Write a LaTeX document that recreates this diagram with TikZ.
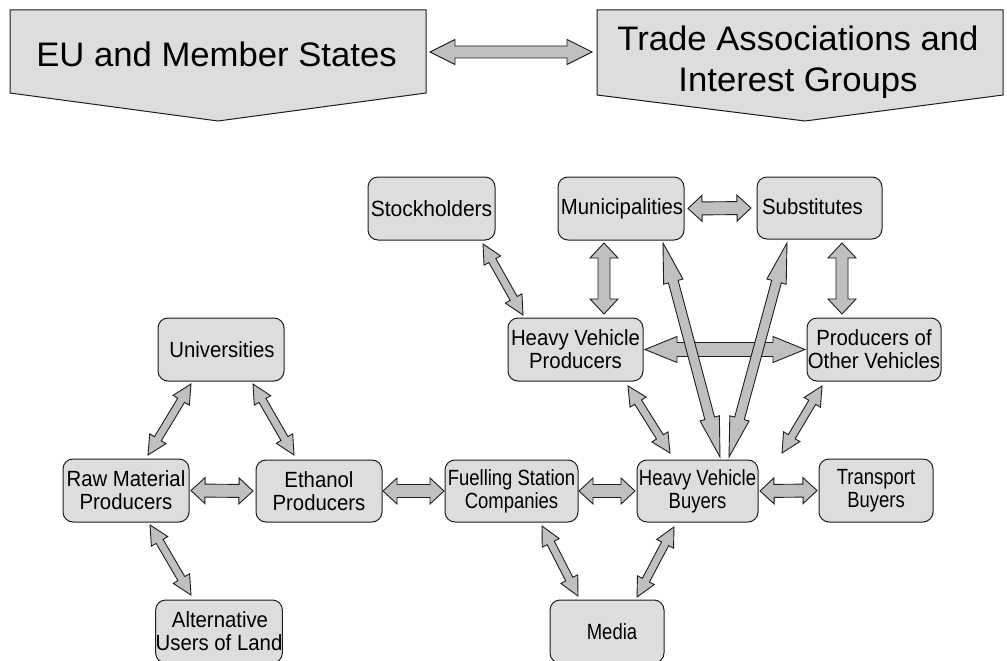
\documentclass[tikz,border=0pt]{standalone}
\usepackage{fontspec}
\setmainfont{Liberation Sans}
\newfontfamily\fwide[FakeStretch=0.955]{Liberation Sans}
\newfontfamily\fmid[FakeStretch=0.925]{Liberation Sans}
\newfontfamily\fnar[FakeStretch=0.84]{Liberation Sans}
\newfontfamily\fbig[FakeStretch=1.02]{Liberation Sans}
\usetikzlibrary{calc}
\definecolor{boxfill}{RGB}{221,221,221}
\definecolor{arrfill}{RGB}{192,192,192}
\definecolor{edgecol}{RGB}{30,30,30}
\tikzset{
  box/.style={draw=edgecol, fill=boxfill, rounded corners=10pt, line width=1pt,
    inner sep=0pt, outer sep=0pt, align=center, font=\fmid\fontsize{22}{23}\selectfont},
  widebox/.style={box, font=\fwide\fontsize{22}{23}\selectfont},
  narbox/.style={box, font=\fnar\fontsize{22}{23}\selectfont},
  pentbox/.style={draw=edgecol, fill=boxfill, line width=1pt},
  bigtext/.style={inner sep=0pt, align=center, font=\fbig\fontsize{34}{41}\selectfont},
  blockarr/.style={draw=edgecol, fill=arrfill, line width=0.9pt, line join=miter},
}
% #1 start, #2 end, #3 head length, #4 head half width, #5 shaft half width
\newcommand\blockarrow[5]{%
  \path[blockarr] let \p1=#1, \p2=#2, \n1={atan2(\y2-\y1,\x2-\x1)} in
    (\p1)
    -- ($(\p1)+(\n1:#3pt)+(\n1+90:#4pt)$)
    -- ($(\p1)+(\n1:#3pt)+(\n1+90:#5pt)$)
    -- ($(\p2)+(\n1:-#3pt)+(\n1+90:#5pt)$)
    -- ($(\p2)+(\n1:-#3pt)+(\n1+90:#4pt)$)
    -- (\p2)
    -- ($(\p2)+(\n1:-#3pt)+(\n1-90:#4pt)$)
    -- ($(\p2)+(\n1:-#3pt)+(\n1-90:#5pt)$)
    -- ($(\p1)+(\n1:#3pt)+(\n1-90:#5pt)$)
    -- ($(\p1)+(\n1:#3pt)+(\n1-90:#4pt)$)
    -- cycle;}
\begin{document}
\begin{tikzpicture}[x=1pt, y=-1pt]
\useasboundingbox (0,0) rectangle (1007,661);
\clip (0,0) rectangle (1007,661);
\fill[white] (0,0) rectangle (1007,661);

% top pentagons
\coordinate (euNW) at (10,10);
\coordinate (euNE) at (426,10);
\coordinate (euSE) at (426,93);
\coordinate (euP) at (218,121);
\coordinate (euSW) at (10,93);
\draw[pentbox] (euNW) -- (euNE) -- (euSE) -- (euP) -- (euSW) -- cycle;
\node[bigtext] (eu) at (216.5,54.5) {EU and Member States};

\coordinate (trNW) at (597,10);
\coordinate (trNE) at (1003,10);
\coordinate (trSE) at (1003,95);
\coordinate (trP) at (805,121);
\coordinate (trSW) at (597,95);
\draw[pentbox] (trNW) -- (trNE) -- (trSE) -- (trP) -- (trSW) -- cycle;
\node[bigtext] (trade) at (798,62.5) {Trade Associations and\\Interest Groups};

\coordinate (euR) at (430,52);
\coordinate (trL) at (592,52);
\blockarrow{(euR)}{(trL)}{25}{12.5}{6}

% nodes
\node[widebox, minimum width=127pt, minimum height=63pt] (stock) at (431.5,208.5) {Stockholders};
\node[box, minimum width=126pt, minimum height=63pt] (muni) at (621,208.5) {\hspace{2pt}Municipalities};
\node[box, minimum width=125pt, minimum height=62pt] (subs) at (819.5,208) {\raisebox{3pt}{Substitutes}\hspace{14pt}};
\node[box, minimum width=135pt, minimum height=63pt] (hvp) at (575.5,349.5) {Heavy Vehicle\\Producers};
\node[box, minimum width=134pt, minimum height=63pt] (pov) at (874,349.5) {Producers of\\Other Vehicles};
\node[box, minimum width=126pt, minimum height=63pt] (univ) at (221,349.5) {\hspace{2pt}Universities};
\node[box, minimum width=126pt, minimum height=63pt] (raw) at (126,490.5) {Raw Material\\Producers};
\node[box, minimum width=126pt, minimum height=62pt] (eth) at (319,491) {Ethanol\\Producers};
\node[box, minimum width=126pt, minimum height=63pt] (alt) at (219,631.5) {\hspace{2pt}Alternative\\Users of Land};
\node[narbox, minimum width=133pt, minimum height=62pt] (fuel) at (511.5,491) {Fuelling Station\\Companies};
\node[narbox, minimum width=121pt, minimum height=62pt] (hvb) at (697.5,491) {Heavy Vehicle\\Buyers};
\node[narbox, minimum width=114pt, minimum height=63pt] (trans) at (876,490.5) {Transport\\Buyers};
\node[narbox, minimum width=114pt, minimum height=63pt] (media) at (607,631.5) {\hspace{10pt}Media};

% horizontal arrows
\blockarrow{([xshift=4]muni.east)}{([xshift=-6]subs.west)}{14}{13}{6.5}
\blockarrow{([xshift=2]raw.east)}{([xshift=-3]eth.west)}{14}{13}{6.5}
\blockarrow{([xshift=1]eth.east)}{([xshift=-1]fuel.west)}{14}{13}{6.5}
\blockarrow{([xshift=1]fuel.east)}{([xshift=-2]hvb.west)}{14}{13}{6.5}
\blockarrow{([xshift=2]hvb.east)}{([xshift=-2]trans.west)}{14}{13}{6.5}
\blockarrow{([xshift=2]hvp.east)}{([xshift=-2]pov.west)}{32}{13}{7}

% vertical arrows
\blockarrow{([shift={(-17,3)}]muni.south)}{([shift={(28.5,-4)}]hvp.north)}{15}{14}{6}
\blockarrow{([shift={(22.5,4)}]subs.south)}{([shift={(-32,-4)}]pov.north)}{15}{14}{6}

% long arrows
\blockarrow{([shift={(42,3)}]muni.south)}{([shift={(22.5,-3)}]hvb.north)}{40}{10}{5}
\blockarrow{([shift={(-32.5,4)}]subs.south)}{([shift={(31.5,-3)}]hvb.north)}{40}{10}{5}

% diagonal arrows
\blockarrow{([shift={(51.5,4)}]stock.south)}{([shift={(-52.5,-3)}]hvp.north)}{19}{9.5}{4}
\blockarrow{([shift={(52.5,5)}]hvp.south)}{([shift={(-27.5,-7)}]hvb.north)}{19}{9.5}{4}
\blockarrow{([shift={(-52,5)}]pov.south)}{([shift={(84.5,-7)}]hvb.north)}{19}{9.5}{4}
\blockarrow{([shift={(-30,3)}]univ.south)}{([shift={(22,-4)}]raw.north)}{19}{9.5}{4}
\blockarrow{([shift={(32,3)}]univ.south)}{([shift={(-25,-5)}]eth.north)}{19}{9.5}{4}
\blockarrow{([shift={(24,3)}]raw.south)}{([shift={(-28,-5)}]alt.north)}{19}{9.5}{4}
\blockarrow{([shift={(30.5,4)}]fuel.south)}{([shift={(-29,-4)}]media.north)}{19}{9.5}{4}
\blockarrow{([shift={(-23.5,5)}]hvb.south)}{([shift={(30,-3)}]media.north)}{19}{9.5}{4}
\end{tikzpicture}
\end{document}
